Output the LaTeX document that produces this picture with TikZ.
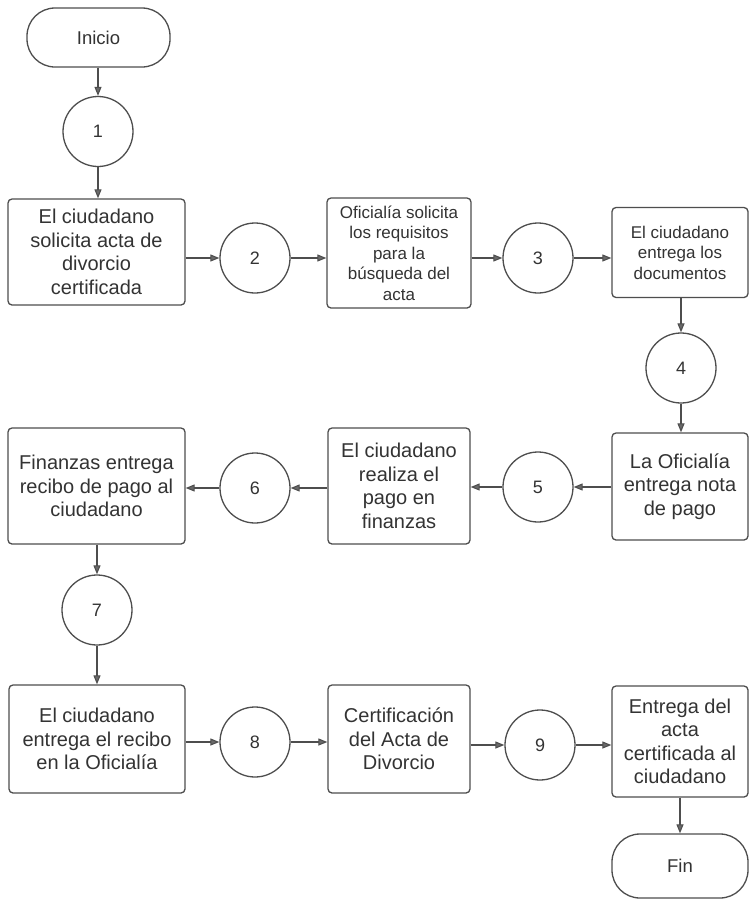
\documentclass[tikz,border=0pt]{standalone}
\usepackage{fontspec}
\setmainfont{Liberation Sans}
\usetikzlibrary{arrows.meta}
\definecolor{ink}{HTML}{333333}
\definecolor{edge}{HTML}{4E4E4E}
\definecolor{tip}{HTML}{6A6A6A}

\begin{document}
\begin{tikzpicture}[x=1pt,y=-1pt,
  every node/.append style={text=ink},
  flowbox/.style={draw=edge, line width=1.3pt, rounded corners=4pt, rectangle,
    align=center, inner sep=0pt, font=\fontsize{20}{23.5}\selectfont},
  smallbox/.style={flowbox, font=\fontsize{17}{20.5}\selectfont},
  stepcircle/.style={draw=edge, line width=1.3pt, circle, minimum size=70pt,
    inner sep=0pt, font=\fontsize{18}{20}\selectfont},
  terminal/.style={draw=edge, line width=1.3pt, rectangle, rounded corners=28pt,
    inner sep=0pt, font=\fontsize{18.5}{20}\selectfont},
  flow/.style={draw=edge, line width=1.1pt,
    -{Triangle[length=9pt,width=7pt,fill=tip]}}]

\useasboundingbox (0,0) rectangle (749,900);
\fill[white] (0,0) rectangle (749,900);

% start / end
\node[terminal, minimum width=143pt, minimum height=59pt] (inicio) at (98.5,37.5) {Inicio};
\node[terminal, minimum width=136pt, minimum height=64pt] (fin) at (680,866) {Fin};

% numbered steps
\node[stepcircle] (c1) at (98,131.5) {1};
\node[stepcircle] (c2) at (255,258) {2};
\node[stepcircle] (c3) at (538,258) {3};
\node[stepcircle] (c4) at (681,368) {4};
\node[stepcircle] (c5) at (538,487) {5};
\node[stepcircle] (c6) at (255,488) {6};
\node[stepcircle] (c7) at (97,610) {7};
\node[stepcircle] (c8) at (255,742) {8};
\node[stepcircle] (c9) at (540,745) {9};

% activities
\node[flowbox, minimum width=177pt, minimum height=106pt] (b1) at (96.5,252)
  {El ciudadano\\solicita acta de\\divorcio\\certificada};
\node[smallbox, minimum width=144pt, minimum height=110pt] (b2) at (399,253)
  {Oficialía solicita\\los requisitos\\para la\\búsqueda del\\acta};
\node[smallbox, minimum width=136pt, minimum height=90pt] (b3) at (680,252.5)
  {El ciudadano\\entrega los\\documentos};
\node[flowbox, minimum width=136pt, minimum height=107pt] (b4) at (680,486.5)
  {La Oficialía\\entrega nota\\de pago};
\node[flowbox, minimum width=142pt, minimum height=116pt] (b5) at (399,486)
  {El ciudadano\\realiza el\\pago en\\finanzas};
\node[flowbox, minimum width=177pt, minimum height=116pt] (b6) at (96.5,486)
  {Finanzas entrega\\recibo de pago al\\ciudadano};
\node[flowbox, minimum width=176pt, minimum height=108pt] (b7) at (97,739)
  {El ciudadano\\entrega el recibo\\en la Oficialía};
\node[flowbox, minimum width=142pt, minimum height=108pt] (b8) at (399,739)
  {Certificación\\del Acta de\\Divorcio};
\node[flowbox, minimum width=136pt, minimum height=111pt] (b9) at (680,741.5)
  {Entrega del\\acta\\certificada al\\ciudadano};

% connectors
\draw[flow] (c1.north |- inicio.south) -- (c1.north);
\draw[flow] (c1.south) -- (c1.south |- b1.north);
\draw[flow] (b1.east |- c2.west) -- (c2.west);
\draw[flow] (c2.east) -- (b2.west |- c2.east);
\draw[flow] (b2.east |- c3.west) -- (c3.west);
\draw[flow] (c3.east) -- (b3.west |- c3.east);
\draw[flow] (c4.north |- b3.south) -- (c4.north);
\draw[flow] (c4.south) -- (c4.south |- b4.north);
\draw[flow] (b4.west |- c5.east) -- (c5.east);
\draw[flow] (c5.west) -- (b5.east |- c5.west);
\draw[flow] (b5.west |- c6.east) -- (c6.east);
\draw[flow] (c6.west) -- (b6.east |- c6.west);
\draw[flow] (c7.north |- b6.south) -- (c7.north);
\draw[flow] (c7.south) -- (c7.south |- b7.north);
\draw[flow] (b7.east |- c8.west) -- (c8.west);
\draw[flow] (c8.east) -- (b8.west |- c8.east);
\draw[flow] (b8.east |- c9.west) -- (c9.west);
\draw[flow] (c9.east) -- (b9.west |- c9.east);
\draw[flow] (b9.south) -- (fin.north);
\end{tikzpicture}
\end{document}
